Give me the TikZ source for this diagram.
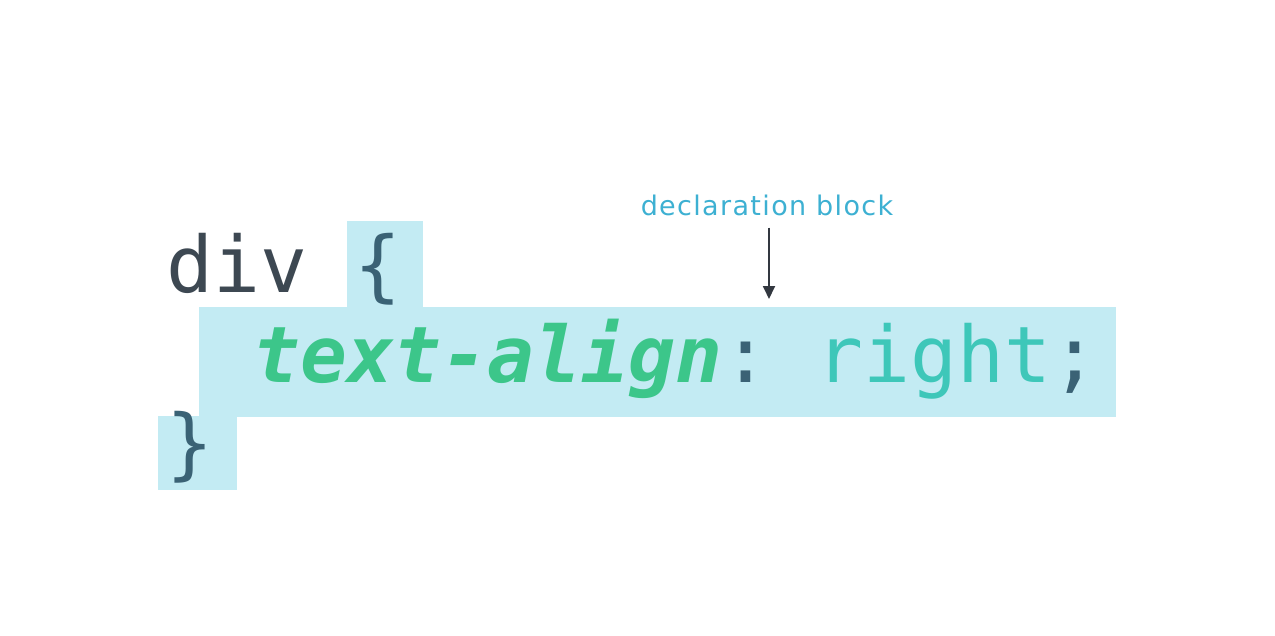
\documentclass[tikz,border=0pt]{standalone}
\usepackage{fontspec}
\setmonofont{DejaVu Sans Mono}
\newfontfamily\lblfont[LetterSpace=5]{DejaVu Sans}
\usetikzlibrary{arrows.meta}
\definecolor{hl}{HTML}{C3EBF3}
\definecolor{divc}{HTML}{3D4852}
\definecolor{punc}{HTML}{3A6275}
\definecolor{propc}{HTML}{3CC68A}
\definecolor{valc}{HTML}{3EC7B9}
\definecolor{lblc}{HTML}{3DB0D2}
\definecolor{arrc}{HTML}{333840}
\tikzset{
  code/.style={anchor=base west, inner sep=0pt, font=\ttfamily\fontsize{78}{78}\selectfont},
  hlbox/.style={fill=hl, draw=none},
  lbl/.style={inner sep=0pt, text=lblc, font=\lblfont\fontsize{27}{27}\selectfont},
  arr/.style={draw=arrc, line width=1.8pt, -{Triangle[length=13pt,width=12pt]}}
}
\begin{document}
\begin{tikzpicture}[x=1pt,y=-1pt]
\useasboundingbox (0,0) rectangle (1275,635);
% highlight boxes
\fill[hlbox] (347,221) rectangle (423,308);
\fill[hlbox] (199,307) rectangle (1116,417);
\fill[hlbox] (158,416) rectangle (237,490);
% code lines
\node[code, text=divc] (l1) at (166,292) {div\ \textcolor{punc}{\{}};
\node[code] (l2) at (253,382) {\textcolor{propc}{\bfseries\itshape text-align}\textcolor{punc}{:}\ \textcolor{valc}{right}\textcolor{punc}{;}};
\node[code, text=punc] (l3) at (166,470) {\}};
% label and arrow
\node[lbl] (lab) at (767,205) {declaration block};
\coordinate (tip) at (769,299);
\draw[arr] (lab.south -| tip) ++(0,12) -- (tip);
\end{tikzpicture}
\end{document}
